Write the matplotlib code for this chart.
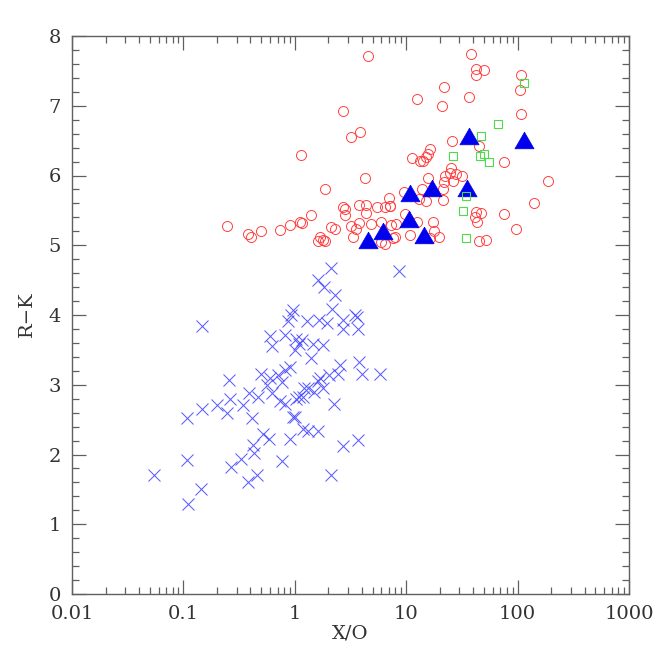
import matplotlib
matplotlib.use('Agg')
import matplotlib.pyplot as plt
from matplotlib.ticker import LogLocator, MultipleLocator, NullFormatter

plt.rcParams['font.family'] = ['DejaVu Serif']

# Red open circles (X/O, R-K)
red_circles = [
    (4.54, 7.71), (2.69, 6.93), (3.85, 6.62), (3.19, 6.55), (1.14, 6.30), (4.3, 5.96),
    (1.88, 5.81), (6.97, 5.68), (38.5, 7.74), (42.1, 7.52), (49.9, 7.51), (42.1, 7.44),
    (108, 7.44), (106, 7.22), (21.8, 7.27), (12.4, 7.10), (20.9, 7.00), (36.4, 7.12),
    (108, 6.88), (25.8, 6.50), (44.8, 6.42), (75, 6.20), (11.2, 6.25), (16.5, 6.38),
    (15.6, 6.31), (15.1, 6.27), (13.3, 6.21), (14.2, 6.21), (189, 5.92), (139, 5.61),
    (15.8, 5.96), (22.5, 5.99), (25, 6.11), (24.5, 6.03), (28.2, 6.02), (31.5, 5.99),
    (22, 5.91), (26.5, 5.92), (21.3, 5.80), (9.6, 5.77), (13.9, 5.80), (12.9, 5.67),
    (15.0, 5.64), (21.2, 5.65), (0.246, 5.28), (0.383, 5.16), (0.407, 5.12), (0.50, 5.21),
    (0.743, 5.22), (0.90, 5.29), (1.11, 5.34), (1.15, 5.32), (1.39, 5.44), (2.71, 5.55),
    (2.84, 5.52), (2.84, 5.43), (3.75, 5.58), (4.4, 5.57), (4.4, 5.46), (5.5, 5.55),
    (6.4, 5.55), (7.2, 5.56), (2.1, 5.26), (2.3, 5.23), (1.70, 5.12), (1.79, 5.08),
    (1.61, 5.06), (1.85, 5.06), (3.18, 5.27), (3.53, 5.23), (3.3, 5.12), (3.8, 5.32),
    (4.8, 5.31), (5.9, 5.33), (7.3, 5.29), (8.0, 5.12), (5.9, 5.05), (6.4, 5.02),
    (9.7, 5.45), (8.1, 5.31), (12.4, 5.33), (17.4, 5.33), (17.7, 5.21), (10.8, 5.14),
    (7.6, 5.10), (19.9, 5.12), (16.2, 5.10), (42.6, 5.48), (46.6, 5.46), (41.4, 5.41),
    (43.4, 5.34), (75.5, 5.45), (97.5, 5.24), (44.6, 5.06), (51.7, 5.07), (7.1, 5.56),
]

# Green open squares
green_squares = [
    (113.5, 7.32), (66.7, 6.74), (47, 6.57), (26.2, 6.28), (46.4, 6.28),
    (50.4, 6.31), (55.4, 6.19), (34.5, 5.70), (32.6, 5.49), (34.4, 5.11),
]

# Blue filled triangles
blue_triangles = [
    (36.6, 6.56), (113.5, 6.51), (10.8, 5.75), (17.2, 5.82), (35.2, 5.82),
    (10.6, 5.38), (6.2, 5.21), (14.4, 5.15), (4.54, 5.07),
]

# Blue crosses
blue_crosses = [
    (2.1, 4.68), (8.6, 4.63), (1.61, 4.50), (1.83, 4.40), (2.28, 4.28), (2.17, 4.09),
    (0.965, 4.07), (0.93, 4.00), (0.87, 3.92), (1.29, 3.92), (1.66, 3.93), (1.95, 3.89),
    (0.148, 3.84), (2.71, 3.93), (2.71, 3.80), (3.47, 4.00), (3.58, 3.97), (3.7, 3.80),
    (0.596, 3.70), (0.62, 3.55), (0.82, 3.71), (1.03, 3.66), (1.10, 3.59), (1.17, 3.64),
    (1.01, 3.50), (1.45, 3.59), (1.79, 3.57), (1.41, 3.38), (0.50, 3.16), (0.596, 3.09),
    (0.71, 3.14), (0.81, 3.21), (0.90, 3.26), (0.76, 3.04), (0.56, 2.99), (0.257, 3.07),
    (2.04, 3.14), (2.44, 3.16), (2.53, 3.28), (3.75, 3.33), (4.05, 3.15), (5.8, 3.15),
    (2.25, 2.73), (1.31, 2.95), (1.50, 2.90), (1.80, 2.96), (1.10, 2.83), (1.03, 2.80),
    (0.81, 2.73), (0.73, 2.76), (0.63, 2.88), (0.47, 2.83), (0.39, 2.88), (0.26, 2.80),
    (0.34, 2.71), (0.20, 2.71), (0.148, 2.65), (0.108, 2.53), (0.246, 2.59), (0.41, 2.53),
    (0.97, 2.54), (1.18, 2.83), (0.52, 2.30), (0.59, 2.22), (0.90, 2.22), (1.0, 2.54),
    (1.18, 2.37), (1.31, 2.33), (1.61, 2.34), (0.42, 2.13), (0.43, 2.02), (0.33, 1.94),
    (0.27, 1.82), (0.38, 1.61), (0.46, 1.70), (0.77, 1.91), (0.108, 1.92), (0.054, 1.71),
    (0.145, 1.51), (0.110, 1.29), (2.1, 1.71), (2.7, 2.12), (3.7, 2.21), (1.2, 2.95),
    (1.6, 3.05), (1.7, 3.10),
]

x_ticks = [0.01, 0.1, 1, 10, 100, 1000]
x_tick_labels = ['0.01', '0.1', '1', '10', '100', '1000']
y_ticks = [0, 1, 2, 3, 4, 5, 6, 7, 8]
y_tick_labels = ['0', '1', '2', '3', '4', '5', '6', '7', '8']

fig = plt.figure(figsize=(6.64, 6.64), dpi=100)
ax = fig.add_axes([72 / 664, 70 / 664, 557 / 664, 558 / 664])
ax.set_xscale('log')
ax.set_xlim(0.01, 1000)
ax.set_ylim(0, 8)

# equilateral triangle with its bounding box centred on the data point
tri = [(0, 0.866), (-1, -0.866), (1, -0.866), (0, 0.866)]

def xs(pts):
    return [p[0] for p in pts]

def ys(pts):
    return [p[1] for p in pts]

ax.plot(xs(blue_crosses), ys(blue_crosses), linestyle='none', marker='x',
        markersize=8.6, markeredgecolor='#4040ff', markeredgewidth=0.75, alpha=0.85)
ax.plot(xs(red_circles), ys(red_circles), linestyle='none', marker='o',
        markersize=7.2, markerfacecolor='none', markeredgecolor='#ff4040', markeredgewidth=0.7)
ax.plot(xs(blue_triangles), ys(blue_triangles), linestyle='none', marker=tri,
        markersize=13.8, markerfacecolor='#0000ee', markeredgecolor='#0000ee', markeredgewidth=0.5)
ax.plot(xs(green_squares), ys(green_squares), linestyle='none', marker='s',
        markersize=5.4, markerfacecolor='none', markeredgecolor='#4bdc4b', markeredgewidth=0.8)

ax.set_xticks(x_ticks)
ax.set_xticklabels(x_tick_labels)
ax.xaxis.set_minor_locator(LogLocator(base=10, subs=range(2, 10)))
ax.xaxis.set_minor_formatter(NullFormatter())
ax.set_yticks(y_ticks)
ax.set_yticklabels(y_tick_labels)
ax.yaxis.set_minor_locator(MultipleLocator(0.2))

ax.tick_params(which='both', direction='in', top=True, right=True,
               color='#606060', labelcolor='#333333', labelsize=14, pad=8, width=0.9)
ax.tick_params(which='major', length=10)
ax.tick_params(which='minor', length=5)
for s in ax.spines.values():
    s.set_color('#606060')
    s.set_linewidth(1.0)

fig.text(350.5 / 664, 1 - 633 / 664, 'X/O', ha='center', va='center',
         fontsize=14, color='#333333')
fig.text(27 / 664, 1 - 314 / 664, 'R\u2212K', ha='center', va='center',
         rotation=90, fontsize=14, color='#333333')

fig.savefig('out.png', dpi=100, facecolor='white')
